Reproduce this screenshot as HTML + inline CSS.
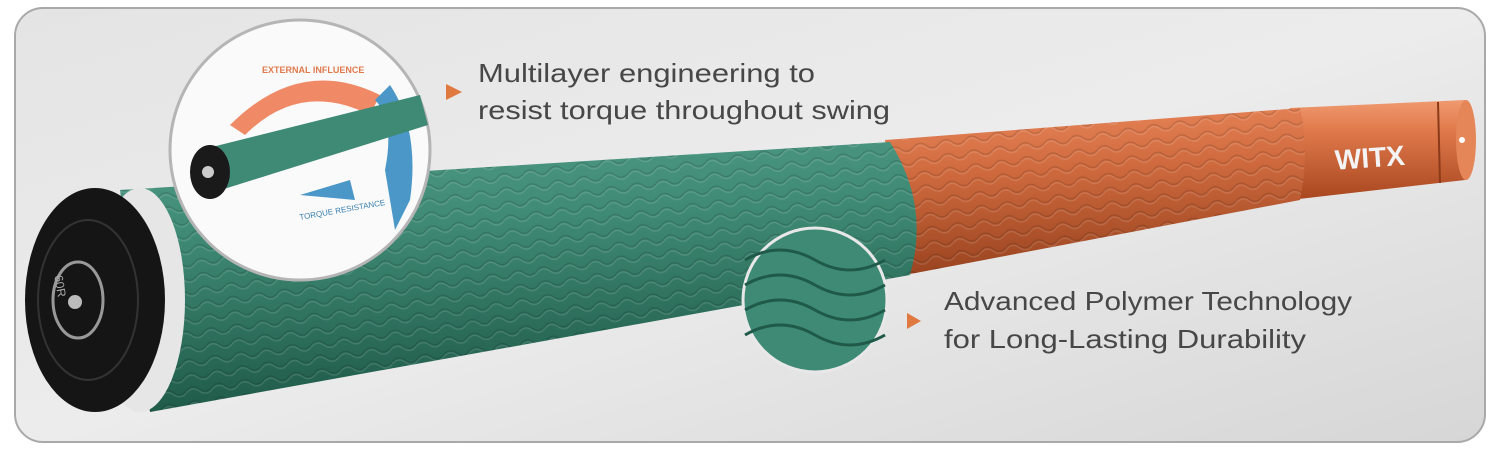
<!DOCTYPE html>
<html><head><style>
html,body{margin:0;padding:0;background:#fff;}
body{width:1500px;height:450px;overflow:hidden;}
text{font-family:"Liberation Sans",sans-serif;}
</style></head><body>
<svg width="1500" height="450" viewBox="0 0 1500 450" xmlns="http://www.w3.org/2000/svg">
<defs>
<linearGradient id="bg" x1="0" y1="0" x2="1" y2="1">
<stop offset="0" stop-color="#e4e4e4"/><stop offset="0.5" stop-color="#ececec"/><stop offset="1" stop-color="#d6d6d6"/></linearGradient>
<linearGradient id="gr" x1="0" y1="0" x2="0.15" y2="1">
<stop offset="0" stop-color="#4f9a84"/><stop offset="0.35" stop-color="#3f8a74"/><stop offset="1" stop-color="#1f5a48"/></linearGradient>
<linearGradient id="or" x1="0" y1="0" x2="0.1" y2="1">
<stop offset="0" stop-color="#e8865a"/><stop offset="0.4" stop-color="#cf6a3e"/><stop offset="1" stop-color="#9a4420"/></linearGradient>
<linearGradient id="cap" x1="0" y1="0" x2="0" y2="1">
<stop offset="0" stop-color="#f09a70"/><stop offset="0.3" stop-color="#e07a4c"/><stop offset="1" stop-color="#a8461f"/></linearGradient>
<pattern id="tex" width="26" height="14" patternUnits="userSpaceOnUse" patternTransform="rotate(-8)">
<path d="M0 7 Q6.5 1 13 7 T26 7" fill="none" stroke="rgba(0,0,0,0.13)" stroke-width="1.5"/>
<path d="M0 9 Q6.5 3 13 9 T26 9" fill="none" stroke="rgba(255,255,255,0.12)" stroke-width="1.5"/>
</pattern>
</defs>
<rect x="15" y="8" width="1470" height="434" rx="28" fill="url(#bg)" stroke="#a9a9a9" stroke-width="2"/>
<path d="M1290 108 L1465 100 Q1480 140 1465 180 L1290 200 Z" fill="url(#cap)"/>
<ellipse cx="1466" cy="140" rx="10" ry="40" fill="#e58658"/>
<circle cx="1462" cy="140" r="3" fill="#fff"/>
<line x1="1438" y1="102" x2="1440" y2="183" stroke="#8a3a18" stroke-width="2"/>
<text x="1335" y="168" font-size="28" font-weight="bold" fill="#f4f4f4" transform="rotate(-4 1360 160)">WITX</text>
<path d="M885 140 L1300 108 Q1310 150 1300 200 L905 275 Z" fill="url(#or)"/>
<path d="M885 140 L1300 108 Q1310 150 1300 200 L905 275 Z" fill="url(#tex)"/>
<path d="M120 190 L890 142 Q930 205 910 275 L150 412 Z" fill="url(#gr)"/>
<path d="M120 190 L890 142 Q930 205 910 275 L150 412 Z" fill="url(#tex)"/>
<ellipse cx="140" cy="300" rx="45" ry="112" fill="#e6e6e6"/>
<ellipse cx="95" cy="300" rx="70" ry="112" fill="#151515"/>
<ellipse cx="88" cy="300" rx="50" ry="80" fill="none" stroke="#333" stroke-width="2"/>
<ellipse cx="78" cy="300" rx="25" ry="38" fill="none" stroke="#999" stroke-width="3"/>
<circle cx="75" cy="302" r="7" fill="#bbb"/>
<text x="55" y="285" font-size="12" fill="#aaa" transform="rotate(80 60 280)">60R</text>
<circle cx="300" cy="150" r="130" fill="#fafafa" stroke="#b5b5b5" stroke-width="3"/>
<path d="M230 125 Q300 55 380 95 L370 115 Q300 80 245 135 Z" fill="#f08a66"/>
<path d="M390 85 Q420 130 410 200 L395 230 L385 170 Q395 120 375 100 Z" fill="#4a97c8"/>
<path d="M200 150 L420 95 L428 125 L205 195 Z" fill="#3f8a74"/>
<ellipse cx="210" cy="172" rx="20" ry="27" fill="#1a1a1a"/>
<circle cx="208" cy="172" r="6" fill="#ccc"/>
<path d="M300 195 L350 180 L355 200 Z" fill="#4a97c8"/>
<text x="262" y="73" font-size="9" font-weight="bold" fill="#e07a4c">EXTERNAL INFLUENCE</text>
<text x="300" y="220" font-size="8" fill="#3a7fb0" transform="rotate(-10 300 220)">TORQUE RESISTANCE</text>
<circle cx="815" cy="300" r="72" fill="#3f8a74" stroke="#e8e8e8" stroke-width="3"/>
<g fill="none" stroke="#1f5a48" stroke-width="3">
<path d="M745 260 Q780 240 815 260 T885 260"/>
<path d="M745 285 Q780 265 815 285 T885 285"/>
<path d="M745 310 Q780 290 815 310 T885 310"/>
<path d="M745 335 Q780 315 815 335 T885 335"/>
</g>
<polygon points="446,84 462,92 446,100" fill="#e0793f"/>
<text x="478" y="82" font-size="26" fill="#474747" textLength="337" lengthAdjust="spacingAndGlyphs">Multilayer engineering to</text>
<text x="478" y="119" font-size="26" fill="#474747" textLength="412" lengthAdjust="spacingAndGlyphs">resist torque throughout swing</text>
<polygon points="907,313 921,321 907,329" fill="#e0793f"/>
<text x="944" y="310" font-size="26" fill="#474747" textLength="408" lengthAdjust="spacingAndGlyphs">Advanced Polymer Technology</text>
<text x="944" y="348" font-size="26" fill="#474747" textLength="362" lengthAdjust="spacingAndGlyphs">for Long-Lasting Durability</text>
</svg>
</body></html>
